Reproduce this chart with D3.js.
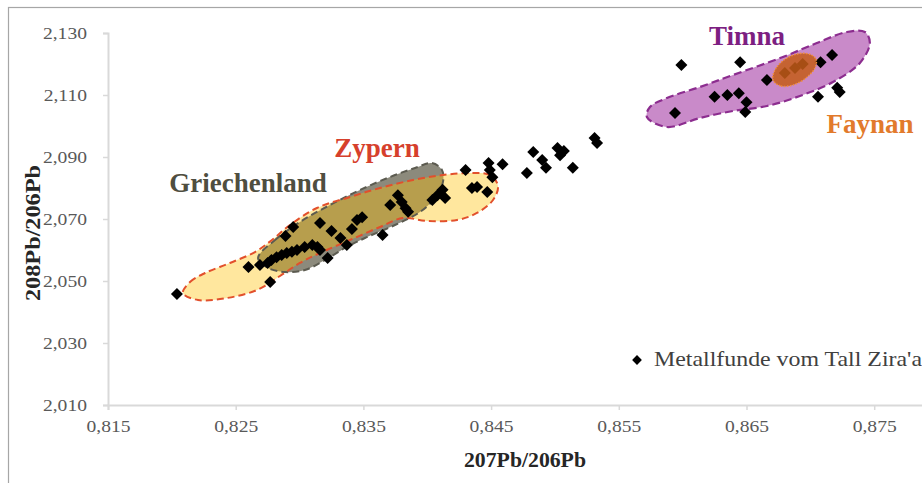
<!DOCTYPE html>
<html><head><meta charset="utf-8">
<script src="https://cdn.jsdelivr.net/npm/d3@7"></script>
<style>html,body{margin:0;padding:0;background:#fff;overflow:hidden}</style>
</head><body>
<script>
// ---------- data ----------
const xDomain = [0.815, 0.885];
const yDomain = [2.010, 2.130];
const xTicks = [0.815, 0.825, 0.835, 0.845, 0.855, 0.865, 0.875];
const yTicks = [2.010, 2.030, 2.050, 2.070, 2.090, 2.110, 2.130];
const xTitle = "207Pb/206Pb";
const yTitle = "208Pb/206Pb";
const legendLabel = "Metallfunde vom Tall Zira'a";

// Metallfunde vom Tall Zira'a (207Pb/206Pb, 208Pb/206Pb)
const findsX = [0.8204,0.8277,0.8260,0.8269,0.8275,0.8278,0.8282,0.8286,0.8290,0.8294,0.8298,0.8304,0.8310,0.8314,0.8316,0.8322,
  0.8289,0.8295,0.8316,0.8325,0.8332,0.8337,0.8341,0.8345,0.8349,0.8365,0.8371,0.8377,0.8380,0.8383,0.8385,
  0.8404,0.8408,0.8412,0.8414,0.8430,0.8435,0.8439,0.8447,0.8448,0.8449,0.8459,0.8451,
  0.8478,0.8483,0.8490,0.8493,0.8502,0.8504,0.8507,0.8514,0.8531,0.8533,
  0.8599,0.8645,0.8594,0.8625,0.8635,0.8644,0.8650,0.8649,0.8666,0.8708,0.8717,0.8706,0.8721,0.8723,
  0.8680,0.8688,0.8694];
const findsY = [2.0458,2.0497,2.0545,2.0552,2.0558,2.0568,2.0577,2.0584,2.0590,2.0594,2.0600,2.0610,2.0616,2.0610,2.0600,2.0574,
  2.0645,2.0674,2.0687,2.0661,2.0639,2.0616,2.0668,2.0697,2.0706,2.0648,2.0745,2.0777,2.0755,2.0735,2.0723,
  2.0761,2.0777,2.0794,2.0768,2.0858,2.0800,2.0803,2.0787,2.0881,2.0858,2.0877,2.0835,
  2.0848,2.0916,2.0890,2.0865,2.0929,2.0906,2.0919,2.0865,2.0961,2.0945,
  2.1197,2.1206,2.1042,2.1094,2.1100,2.1106,2.1077,2.1045,2.1148,2.1206,2.1229,2.1094,2.1123,2.1110,
  2.1171,2.1187,2.1200];

// Field outlines (207Pb/206Pb, 208Pb/206Pb)
const griechenland = [[0.82675,2.05742],[0.82808,2.06323],[0.83003,2.06903],[0.83238,2.07452],[0.83473,2.07935],[0.83708,2.08355],
  [0.83904,2.08645],[0.84037,2.08806],[0.84115,2.08581],[0.84123,2.08194],[0.84060,2.07677],[0.83943,2.07226],[0.83747,2.06806],
  [0.83512,2.06387],[0.83356,2.06065],[0.83199,2.05677],[0.83042,2.05355],[0.82886,2.05290],[0.82753,2.05419]];
const zypern = [[0.82087,2.04613],[0.82142,2.04968],[0.82260,2.05258],[0.82455,2.05581],[0.82651,2.05935],[0.82784,2.06323],
  [0.82925,2.06806],[0.83136,2.07355],[0.83395,2.07710],[0.83630,2.08000],[0.83888,2.08258],[0.84123,2.08419],[0.84335,2.08484],
  [0.84491,2.08419],[0.84554,2.08065],[0.84515,2.07613],[0.84389,2.07194],[0.84233,2.06968],[0.83998,2.06935],[0.83810,2.07032],
  [0.83630,2.06742],[0.83395,2.06323],[0.83160,2.05903],[0.83003,2.05581],[0.82847,2.05161],[0.82667,2.04710],[0.82432,2.04452],
  [0.82205,2.04387]];
const timna = [[0.85720,2.10290],[0.85877,2.09968],[0.86135,2.10258],[0.86394,2.10484],[0.86660,2.10645],[0.86918,2.10968],
  [0.87177,2.11419],[0.87388,2.12032],[0.87466,2.12677],[0.87427,2.13032],[0.87286,2.13032],[0.87051,2.12677],[0.86785,2.12226],
  [0.86394,2.11645],[0.86135,2.11258],[0.85877,2.10903],[0.85744,2.10613]];
const faynan = [[0.86707,2.11484],[0.86770,2.11290],[0.86864,2.11323],[0.86965,2.11548],[0.87036,2.11871],[0.87044,2.12161],
  [0.86989,2.12323],[0.86895,2.12323],[0.86793,2.12129],[0.86723,2.11806]];

const fieldLabels = ["Timna","Faynan","Zypern","Griechenland"];
const fieldLabelX = [0.86504,0.87467,0.83607,0.82596];
const fieldLabelY = [2.12613,2.09774,2.09000,2.07871];
const fieldLabelColor = ["#7d1f82","#e27a2c","#d6402c","#4f4e40"];

// ---------- drawing ----------
const W = 922, H = 483;
const svg = d3.select("body").append("svg").attr("width", W).attr("height", H)
  .style("font-family", "'Liberation Serif','Times New Roman',serif");

const x = d3.scaleLinear().domain(xDomain).range([108, 1001.9]);
const y = d3.scaleLinear().domain(yDomain).range([405, 33]);
const fmt = v => d3.format(".3f")(v).replace(".", ",");

// outer frame
svg.append("rect").attr("x", 8.5).attr("y", 7.5).attr("width", W + 20).attr("height", H + 20)
  .attr("fill", "none").attr("stroke", "#a6a6a6").attr("stroke-width", 1.2);

// axes
const gx = svg.append("g").attr("transform", `translate(0,${y(yDomain[0])})`)
  .call(d3.axisBottom(x).tickValues(xTicks).tickFormat(fmt).tickSizeOuter(0).tickSize(5).tickPadding(10));
const gy = svg.append("g").attr("transform", `translate(${x(xDomain[0])},0)`)
  .call(d3.axisLeft(y).tickValues(yTicks).tickFormat(fmt).tickSizeOuter(0).tickSize(5).tickPadding(12));
[gx, gy].forEach(g => {
  g.select(".domain").attr("stroke", "#d9d9d9").attr("stroke-width", 2);
  g.selectAll(".tick line").attr("stroke", "#d9d9d9").attr("stroke-width", 1.5);
  g.selectAll(".tick text").attr("fill", "#595959").style("font-size", "17.5px")
   .style("font-family", "'Liberation Serif','Times New Roman',serif");
});
gx.selectAll(".tick text").attr("transform", "scale(1.12,1)");
gy.selectAll(".tick text").attr("transform", "translate(-2,0) scale(1.12,1)");

// axis titles
svg.append("text").attr("x", 525).attr("y", 467).attr("text-anchor", "middle")
  .attr("font-weight", "bold").attr("font-size", 20).attr("fill", "#262626")
  .attr("textLength", 122).attr("lengthAdjust", "spacingAndGlyphs").text(xTitle);
svg.append("text").attr("transform", "translate(40,233) rotate(-90)").attr("text-anchor", "middle")
  .attr("font-weight", "bold").attr("font-size", 20).attr("fill", "#262626")
  .attr("textLength", 136).attr("lengthAdjust", "spacingAndGlyphs").text(yTitle);

// fields
const area = d3.line().x(d => x(d[0])).y(d => y(d[1])).curve(d3.curveCatmullRomClosed.alpha(0.5));
svg.append("path").attr("d", area(griechenland)).attr("fill", "#8c8a7c");
svg.append("path").attr("d", area(zypern)).attr("fill", "#ffc000").attr("fill-opacity", 0.38);
svg.append("path").attr("d", area(griechenland)).attr("fill", "none")
  .attr("stroke", "#5c5b50").attr("stroke-width", 2).attr("stroke-dasharray", "7,4");
svg.append("path").attr("d", area(zypern)).attr("fill", "none")
  .attr("stroke", "#e2502c").attr("stroke-width", 2).attr("stroke-dasharray", "7,4");
svg.append("path").attr("d", area(timna)).attr("fill", "#c98ac9")
  .attr("stroke", "#8c2d8f").attr("stroke-width", 2.2).attr("stroke-dasharray", "8,4");

// finds
const diamond = d3.symbol().type(d3.symbolSquare).size(72);
svg.append("g").selectAll("path").data(findsX.map((v, i) => [v, findsY[i]])).join("path")
  .attr("d", diamond)
  .attr("transform", d => `translate(${x(d[0])},${y(d[1])}) rotate(45)`)
  .attr("fill", "#000");

// Faynan on top
svg.append("path").attr("d", area(faynan)).attr("fill", "#c45c18").attr("fill-opacity", 0.85)
  .attr("stroke", "#f09040").attr("stroke-width", 1.5).attr("stroke-dasharray", "1.5,1.5");

// field labels
svg.append("g").selectAll("text").data(fieldLabels).join("text")
  .attr("x", (d, i) => x(fieldLabelX[i])).attr("y", (d, i) => y(fieldLabelY[i]))
  .attr("text-anchor", "middle").attr("font-weight", "bold").attr("font-size", 27)
  .attr("fill", (d, i) => fieldLabelColor[i]).text(d => d);

// legend
svg.append("path").attr("d", d3.symbol().type(d3.symbolSquare).size(48))
  .attr("transform", "translate(637,360) rotate(45)").attr("fill", "#000");
svg.append("text").attr("x", 654).attr("y", 366).attr("font-size", 21).attr("fill", "#404040")
  .attr("textLength", 268).attr("lengthAdjust", "spacingAndGlyphs").text(legendLabel);
</script>
</body></html>
